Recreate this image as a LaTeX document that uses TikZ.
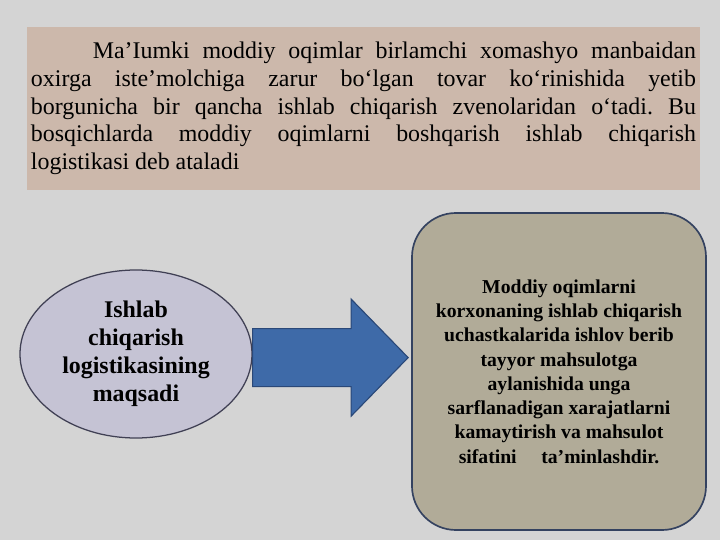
\documentclass[tikz,border=0pt]{standalone}
\usepackage{fontspec}
\setmainfont{Liberation Serif}
\frenchspacing
\usetikzlibrary{positioning, calc, shapes.geometric}
\definecolor{pagecolor}{RGB}{212, 212, 212}
\definecolor{introcolor}{RGB}{204, 184, 171}
\definecolor{ovalcolor}{RGB}{197, 195, 212}
\definecolor{ovalborder}{RGB}{64, 64, 84}
\definecolor{arrowcolor}{RGB}{62, 106, 168}
\definecolor{arrowborder}{RGB}{42, 72, 120}
\definecolor{goalcolor}{RGB}{177, 171, 152}
\definecolor{goalborder}{RGB}{52, 66, 96}

\begin{document}
\begin{tikzpicture}[
    textbox/.style={rectangle, fill=introcolor, minimum width=16.825cm, minimum height=4.075cm, inner xsep=0.1cm, text width=16.625cm, align=justify, font=\fontsize{17}{19.7}\selectfont},
    oval/.style={ellipse, draw=ovalborder, line width=0.9pt, fill=ovalcolor, minimum width=5.8cm, minimum height=4.2cm, inner sep=0pt, align=center, font=\fontsize{17}{20}\selectfont\bfseries},
    goalbox/.style={rectangle, draw=goalborder, line width=1.2pt, fill=goalcolor, rounded corners=1.1cm, minimum width=7.35cm, minimum height=7.925cm, align=center, font=\fontsize{14}{17.3}\selectfont\bfseries},
    blockarrow/.style={draw=arrowborder, line width=0.8pt, fill=arrowcolor, line join=miter},
]

% ============ Fon ============
\useasboundingbox (0,0) rectangle (18,13.5);
\fill[pagecolor] (0,0) rectangle (18,13.5);

% ============ Matn ============
\node[textbox] (intro) at (9.0875, 10.7875)
      {\hspace*{44pt}Ma’Iumki moddiy oqimlar birlamchi xomashyo manbaidan\linebreak
       oxirga iste’molchiga zarur bo‘lgan tovar ko‘rinishida yetib\linebreak
       borgunicha bir qancha ishlab chiqarish zvenolaridan o‘tadi. Bu\linebreak
       bosqichlarda moddiy oqimlarni boshqarish ishlab chiqarish\linebreak
       logistikasi deb ataladi};

% ============ Maqsad ============
\node[oval] (oval) at (3.4, 4.65)
      {Ishlab\\chiqarish\\logistikasining\\maqsadi};

\node[goalbox] (goal) at (13.975, 4.2125)
      {Moddiy oqimlarni\\korxonaning ishlab chiqarish\\uchastkalarida ishlov berib\\tayyor mahsulotga\\aylanishida unga\\sarflanadigan xarajatlarni\\kamaytirish va mahsulot\\sifatini\hspace{1em} ta’minlashdir.};

% ============ Strelka ============
\coordinate (tail) at ($(oval.east)+(0,-0.09)$);
\coordinate (tip) at ($(tail -| goal.west)+(-0.075,0)$);
\draw[blockarrow] ($(tail)+(0,0.725)$) -- ($(tip)+(-1.425,0.725)$) -- ($(tip)+(-1.425,1.4625)$)
      -- (tip) -- ($(tip)+(-1.425,-1.4625)$) -- ($(tip)+(-1.425,-0.725)$) -- ($(tail)+(0,-0.725)$) -- cycle;

\end{tikzpicture}
\end{document}
